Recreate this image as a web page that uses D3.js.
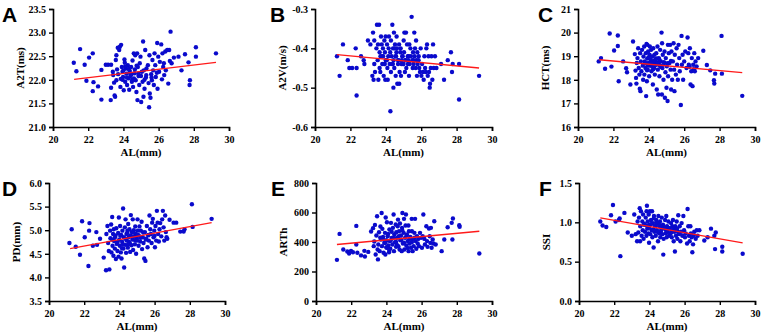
<!DOCTYPE html>
<html><head><meta charset="utf-8">
<script src="https://cdn.jsdelivr.net/npm/d3@7"></script>
<style>body{margin:0;background:#fff}svg{display:block}</style>
</head><body>
<svg id="chart" width="761" height="332"></svg>
<script>
// ---------- data ----------
const xTicks = [20, 22, 24, 26, 28, 30];

const alA = [21.18,21.33,21.54,21.80,21.90,22.05,22.26,22.30,22.26,22.56,22.75,22.75,23.00,23.13,23.28,23.30,23.30,23.40,23.42,23.47,23.50,23.53,23.60,23.57,23.60,23.64,23.68,23.76,23.80,23.83,23.87,23.91,23.95,23.98,24.02,24.06,24.08,24.10,24.14,24.17,24.21,24.25,24.29,24.33,24.36,24.40,24.44,24.48,24.52,24.55,24.59,24.63,24.67,24.70,24.74,24.78,24.80,24.82,24.86,24.90,24.93,24.97,25.01,25.05,25.09,25.12,25.14,25.16,25.20,25.24,25.28,25.31,25.39,25.43,25.46,25.48,25.50,25.54,25.58,25.62,25.65,25.69,25.73,25.77,25.81,25.84,25.92,25.94,25.98,26.03,26.07,26.15,26.19,26.22,26.26,26.32,26.38,26.41,26.49,26.55,26.60,26.64,26.68,26.74,26.87,27.13,27.30,27.50,27.70,27.78,27.76,28.12,28.12,29.26,
  23.70,23.85,24.00,24.20,24.35,24.50,24.65,24.85,25.00,25.30,25.60,24.10,24.45,24.75,23.95,24.30,24.60,25.20,25.90,26.30];
const a2tA = [22.36,22.18,22.65,22.32,21.98,22.47,22.56,21.95,21.76,21.86,21.58,22.21,22.32,22.32,21.57,22.32,21.83,22.17,22.10,21.94,21.67,21.64,22.52,22.42,21.99,22.22,22.68,22.63,22.70,21.85,22.74,22.27,22.17,22.06,21.78,22.43,22.36,21.96,22.24,22.13,21.89,22.31,22.03,21.79,22.19,22.08,22.27,21.96,22.41,21.85,22.56,22.14,22.52,21.99,21.74,22.56,21.57,22.27,22.08,21.89,22.35,22.49,21.53,22.17,21.96,22.81,21.64,22.20,21.81,22.63,22.05,22.24,22.31,21.93,21.42,22.52,21.71,21.62,22.12,21.99,22.42,22.20,21.89,22.56,22.31,22.06,22.78,21.81,22.49,22.17,22.38,22.75,22.01,22.56,22.27,22.10,22.60,22.20,22.63,21.92,22.63,22.40,23.02,22.35,22.47,22.49,22.20,22.54,22.37,21.99,21.89,22.69,22.49,22.56,
  22.12,22.02,22.20,22.05,22.15,22.00,22.22,22.13,22.08,22.10,22.05,22.28,22.11,22.30,22.00,22.23,22.03,22.00,22.15,22.35];
const lineA = [[21.2, 22.01], [29.26, 22.37]];
const yTicksA = [21.0, 21.5, 22.0, 22.5, 23.0, 23.5];

const alB = [21.24,21.39,21.58,21.85,21.94,22.10,22.30,22.35,22.35,22.60,22.75,22.79,22.99,23.13,23.24,23.28,23.31,23.35,23.35,23.39,23.47,23.50,23.54,23.56,23.58,23.62,23.65,23.65,23.69,23.73,23.77,23.80,23.80,23.84,23.88,23.92,23.94,23.95,23.97,23.99,24.03,24.07,24.09,24.11,24.14,24.16,24.18,24.22,24.26,24.29,24.29,24.33,24.37,24.41,24.43,24.44,24.46,24.48,24.52,24.56,24.58,24.61,24.63,24.65,24.69,24.71,24.75,24.76,24.78,24.82,24.84,24.86,24.90,24.93,24.97,25.01,25.03,25.05,25.08,25.12,25.14,25.16,25.20,25.24,25.27,25.31,25.33,25.35,25.39,25.42,25.46,25.50,25.52,25.54,25.57,25.61,25.63,25.65,25.69,25.71,25.73,25.76,25.78,25.80,25.86,25.89,25.93,25.97,26.01,26.05,26.10,26.14,26.18,26.22,26.26,26.29,26.33,26.37,26.41,26.44,26.48,26.50,26.54,26.58,26.63,26.67,26.71,26.78,26.86,27.12,27.29,27.50,27.68,27.74,27.78,28.14,28.14,29.27,
  23.70,23.90,24.05,24.25,24.40,24.55,24.70,24.88,25.10,25.30,25.55,25.85,24.00,24.35,24.60,24.95,25.25,23.85,24.50,25.00];
const a2vB = [-0.42,-0.47,-0.39,-0.43,-0.45,-0.45,-0.40,-0.52,-0.45,-0.42,-0.43,-0.44,-0.38,-0.39,-0.47,-0.36,-0.48,-0.38,-0.44,-0.46,-0.40,-0.34,-0.43,-0.39,-0.48,-0.34,-0.45,-0.41,-0.46,-0.37,-0.39,-0.44,-0.42,-0.40,-0.47,-0.38,-0.44,-0.41,-0.48,-0.37,-0.43,-0.39,-0.45,-0.48,-0.42,-0.40,-0.37,-0.44,-0.56,-0.38,-0.46,-0.42,-0.34,-0.40,-0.50,-0.43,-0.36,-0.45,-0.39,-0.47,-0.42,-0.37,-0.40,-0.49,-0.44,-0.43,-0.39,-0.49,-0.46,-0.41,-0.40,-0.47,-0.43,-0.42,-0.44,-0.38,-0.41,-0.36,-0.46,-0.43,-0.36,-0.45,-0.39,-0.42,-0.43,-0.47,-0.39,-0.44,-0.40,-0.42,-0.32,-0.43,-0.45,-0.41,-0.44,-0.36,-0.42,-0.40,-0.45,-0.38,-0.43,-0.47,-0.41,-0.44,-0.42,-0.45,-0.46,-0.40,-0.47,-0.44,-0.46,-0.48,-0.42,-0.45,-0.46,-0.40,-0.39,-0.47,-0.42,-0.46,-0.50,-0.49,-0.45,-0.42,-0.48,-0.39,-0.45,-0.42,-0.45,-0.44,-0.48,-0.43,-0.41,-0.46,-0.44,-0.44,-0.53,-0.47,
  -0.42,-0.44,-0.43,-0.41,-0.44,-0.42,-0.43,-0.44,-0.43,-0.42,-0.43,-0.43,-0.43,-0.44,-0.41,-0.42,-0.44,-0.42,-0.40,-0.44];
const lineB = [[21.24, -0.416], [29.27, -0.450]];
const yTicksB = [-0.6, -0.5, -0.4, -0.3];

const alC = [21.17,21.30,21.53,21.79,21.89,22.04,22.25,22.25,22.30,22.55,22.72,22.77,22.96,23.11,23.21,23.25,23.28,23.30,23.32,23.36,23.40,23.43,23.47,23.49,23.51,23.53,23.55,23.58,23.62,23.66,23.68,23.70,23.74,23.75,23.77,23.81,23.83,23.85,23.87,23.89,23.91,23.92,23.94,23.96,23.98,24.02,24.04,24.06,24.08,24.11,24.13,24.15,24.19,24.21,24.23,24.25,24.26,24.30,24.32,24.34,24.38,24.40,24.42,24.45,24.47,24.49,24.51,24.53,24.57,24.58,24.60,24.64,24.68,24.72,24.74,24.75,24.77,24.79,24.83,24.87,24.89,24.91,24.94,24.96,25.00,25.02,25.06,25.08,25.09,25.13,25.17,25.21,25.23,25.26,25.28,25.32,25.36,25.40,25.43,25.45,25.47,25.53,25.57,25.60,25.64,25.68,25.72,25.75,25.81,25.85,25.87,25.91,25.94,26.00,26.06,26.13,26.19,26.23,26.26,26.32,26.36,26.40,26.43,26.47,26.51,26.57,26.60,26.64,26.70,26.79,27.08,27.28,27.47,27.68,27.70,27.75,28.11,28.13,29.28,
  23.80,23.95,24.10,24.20,24.30,24.40,24.50,24.60,24.70,24.85,25.05,25.25,24.00,24.25,24.45,24.65,23.90,24.15,26.55,26.30];
const hctC = [18.78,18.92,18.47,19.96,18.56,19.24,19.88,19.43,17.94,18.78,18.49,18.32,17.80,19.62,19.09,18.39,18.08,17.84,18.71,18.92,19.34,18.50,18.22,17.62,19.13,17.52,18.78,18.36,19.27,18.60,18.00,18.99,19.41,18.22,18.78,18.50,19.13,17.31,19.52,17.94,18.90,19.48,18.43,19.20,18.71,18.15,19.06,19.41,18.60,18.85,19.27,18.36,18.99,18.68,17.80,19.34,18.78,18.50,19.06,18.22,18.88,18.64,19.13,17.59,18.74,19.41,18.43,17.38,18.92,18.64,18.15,19.27,18.78,20.00,17.38,19.55,18.50,19.06,18.00,18.71,19.20,17.24,18.32,18.92,17.66,18.57,17.10,19.48,18.15,19.13,18.71,19.48,18.43,17.59,19.20,18.00,18.78,19.55,18.43,17.52,19.06,18.22,19.34,18.64,18.00,19.48,18.92,18.36,16.93,19.86,18.64,19.06,18.00,18.78,19.20,18.50,19.79,19.13,18.64,19.34,17.80,18.36,18.92,17.73,18.64,19.13,18.36,18.78,18.57,18.92,19.23,18.63,18.40,17.98,17.84,18.26,19.86,18.26,17.32,
  18.70,18.60,18.75,18.55,18.80,18.65,18.70,18.85,18.60,18.75,18.70,18.80,18.95,18.45,18.90,18.55,18.40,18.70,18.45,18.55];
const lineC = [[21.2, 18.85], [29.28, 18.30]];
const yTicksC = [16, 17, 18, 19, 20, 21];

const alD = [21.16,21.29,21.52,21.76,21.88,22.03,22.24,22.28,22.30,22.49,22.69,22.73,22.90,23.11,23.24,23.26,23.32,23.36,23.40,23.43,23.47,23.49,23.53,23.55,23.59,23.61,23.64,23.66,23.68,23.70,23.74,23.78,23.80,23.82,23.85,23.89,23.93,23.95,23.97,23.99,24.02,24.04,24.08,24.10,24.12,24.16,24.17,24.21,24.23,24.25,24.27,24.31,24.33,24.35,24.38,24.40,24.42,24.46,24.48,24.50,24.54,24.55,24.57,24.61,24.63,24.65,24.69,24.71,24.74,24.76,24.78,24.82,24.84,24.88,24.90,24.93,24.95,24.99,25.03,25.05,25.09,25.10,25.14,25.18,25.22,25.26,25.29,25.33,25.37,25.41,25.45,25.48,25.52,25.56,25.60,25.64,25.67,25.71,25.75,25.79,25.83,25.86,25.90,25.94,25.98,26.02,26.05,26.09,26.13,26.17,26.20,26.24,26.28,26.32,26.38,26.43,26.47,26.51,26.55,26.60,26.64,26.68,26.72,26.85,27.08,27.23,27.46,27.65,27.70,28.12,28.16,29.24,
  23.75,23.90,24.05,24.20,24.35,24.45,24.60,24.75,24.90,25.05,25.20,25.35,25.50,24.15,24.50,24.80,25.00,25.65,26.00,23.60];
const pdD = [4.73,5.02,4.65,4.48,5.19,4.85,4.24,4.99,5.15,4.67,4.96,4.69,4.82,4.42,4.15,4.92,5.09,4.73,4.56,4.17,4.99,4.83,5.12,4.53,5.28,4.67,4.92,4.46,5.02,4.77,4.61,4.89,4.39,5.04,4.71,4.56,4.94,4.44,5.27,4.80,4.67,5.09,4.53,4.90,4.40,4.75,4.99,5.46,4.61,4.85,4.21,5.06,4.69,5.23,4.52,4.92,4.78,4.99,4.63,5.13,4.85,4.75,5.02,4.54,4.89,5.32,4.68,4.96,4.80,5.23,4.58,5.00,4.86,4.70,5.08,4.92,4.50,4.82,5.23,4.99,4.67,4.89,5.08,4.76,4.99,5.18,4.60,4.85,4.73,4.40,4.96,4.35,4.82,5.09,4.64,4.89,4.78,5.31,5.02,4.92,4.73,5.16,5.24,4.85,4.99,4.64,5.09,4.78,5.41,5.16,4.92,4.76,5.02,5.15,4.87,5.23,5.41,5.06,4.78,5.31,4.96,4.85,4.82,5.22,5.16,5.16,4.97,4.97,5.02,5.55,5.07,5.24,
  4.85,4.75,4.88,4.70,4.82,4.94,4.72,4.86,4.78,4.90,4.84,4.95,4.80,4.62,4.70,4.95,4.78,4.90,4.88,4.80];
const lineD = [[21.2, 4.61], [29.24, 5.16]];
const yTicksD = [3.5, 4.0, 4.5, 5.0, 5.5, 6.0];

const alE = [21.19,21.34,21.55,21.78,21.88,21.99,22.10,22.29,22.29,22.35,22.56,22.75,22.78,22.97,23.13,23.24,23.28,23.31,23.35,23.39,23.43,23.47,23.50,23.52,23.54,23.58,23.62,23.66,23.69,23.73,23.75,23.77,23.81,23.84,23.88,23.92,23.94,23.96,23.99,24.01,24.03,24.07,24.11,24.15,24.17,24.19,24.22,24.26,24.30,24.34,24.37,24.41,24.43,24.45,24.49,24.53,24.55,24.56,24.60,24.64,24.66,24.68,24.72,24.75,24.77,24.79,24.83,24.87,24.89,24.91,24.94,24.98,25.00,25.02,25.06,25.09,25.11,25.13,25.17,25.21,25.25,25.26,25.28,25.32,25.36,25.40,25.44,25.45,25.49,25.51,25.55,25.59,25.63,25.66,25.70,25.74,25.78,25.81,25.85,25.91,25.97,26.02,26.06,26.10,26.16,26.19,26.27,26.31,26.34,26.42,26.46,26.50,26.53,26.57,26.63,26.67,26.72,26.80,27.14,27.29,27.48,27.71,27.78,27.75,28.14,28.16,29.28,
  23.80,23.95,24.10,24.25,24.40,24.55,24.70,24.85,25.00,25.15,25.30,25.45,25.60,24.00,24.30,24.60,24.90,25.20,23.65,24.15];
const arthE = [279,455,349,336,322,340,331,509,383,327,309,340,302,333,471,494,372,403,516,315,444,575,349,282,383,466,338,505,417,597,372,489,435,327,394,462,315,566,412,361,534,439,376,331,485,406,354,530,428,383,496,586,338,451,399,519,367,466,428,507,552,372,473,349,525,412,444,338,496,597,390,462,557,349,428,512,586,376,451,406,512,338,473,390,435,361,557,473,338,421,372,462,557,406,354,439,390,421,372,462,428,361,439,586,421,383,507,406,367,491,439,394,496,361,417,390,541,383,338,417,500,530,559,417,514,503,322,
  420,395,455,410,430,400,440,415,395,445,420,400,430,365,470,380,480,360,430,350];
const lineE = [[21.19, 383], [29.28, 473]];
const yTicksE = [0, 200, 400, 600, 800];

const alF = [21.21,21.34,21.55,21.82,21.93,22.08,22.27,22.35,22.31,22.58,22.77,23.00,23.14,23.22,23.30,23.33,23.37,23.41,23.45,23.47,23.48,23.52,23.56,23.60,23.62,23.64,23.67,23.71,23.75,23.79,23.83,23.84,23.86,23.88,23.90,23.94,23.96,23.98,24.02,24.03,24.05,24.09,24.13,24.15,24.17,24.20,24.24,24.26,24.28,24.32,24.36,24.39,24.43,24.47,24.49,24.51,24.55,24.58,24.60,24.62,24.66,24.70,24.73,24.77,24.79,24.81,24.85,24.89,24.92,24.96,24.98,25.00,25.04,25.08,25.11,25.15,25.19,25.23,25.27,25.30,25.34,25.38,25.42,25.45,25.47,25.51,25.55,25.59,25.62,25.64,25.68,25.72,25.76,25.80,25.83,25.87,25.93,25.97,26.02,26.06,26.14,26.17,26.21,26.25,26.29,26.33,26.36,26.40,26.44,26.48,26.52,26.55,26.63,26.69,26.74,26.84,27.12,27.31,27.50,27.69,27.77,27.73,28.14,28.14,29.30,
  23.85,24.00,24.12,24.22,24.35,24.45,24.55,24.68,24.80,24.95,25.10,25.25,25.40,25.57,24.40,24.70,25.00,25.30,23.70,24.25];
const ssiF = [1.01,0.96,0.94,1.09,1.22,1.01,1.03,0.57,1.05,1.12,0.87,0.83,1.10,0.85,0.76,1.01,0.87,1.06,1.18,0.76,0.95,1.14,0.83,1.01,0.90,1.10,0.79,0.98,0.88,1.06,0.83,1.14,1.21,0.92,1.01,0.86,1.10,0.74,0.97,1.14,0.85,1.03,0.90,1.14,0.81,0.99,0.68,1.08,0.88,0.95,0.83,1.03,0.90,0.99,0.76,1.08,0.86,0.95,1.01,0.81,0.89,1.06,0.85,0.97,0.59,0.79,0.92,1.03,0.86,1.08,0.81,0.95,0.88,1.01,0.83,0.92,0.86,0.99,0.81,0.90,1.03,0.76,0.88,0.63,0.95,0.83,1.01,0.79,0.88,1.09,0.85,0.95,0.76,0.88,0.99,0.83,1.08,0.90,0.81,0.86,0.73,1.17,0.95,0.83,0.76,0.95,0.86,0.81,0.62,0.72,0.83,0.88,0.79,0.90,0.83,0.90,0.77,0.81,0.92,0.83,0.87,0.66,0.69,0.63,0.60,
  0.96,0.93,0.98,0.91,0.95,0.88,0.97,0.92,0.94,0.90,0.93,0.87,0.91,0.92,1.00,0.94,0.90,0.95,0.97,1.05];
const lineF = [[21.21, 1.056], [29.3, 0.74]];
const yTicksF = [0.0, 0.5, 1.0, 1.5];

// ---------- drawing ----------
const svg = d3.select("#chart");

const panels = [
  {letter:"A", title:"A2T(ms)", xs:alA, ys:a2tA, line:lineA, yt:yTicksA, fmt:d3.format(".1f"), l:53, r:229, t:9, b:127},
  {letter:"B", title:"A2V(m/s)", xs:alB, ys:a2vB, line:lineB, yt:yTicksB, fmt:d=>d.toFixed(1), l:315, r:492, t:9, b:127},
  {letter:"C", title:"HCT(ms)", xs:alC, ys:hctC, line:lineC, yt:yTicksC, fmt:d3.format("d"), l:578, r:755, t:9, b:127},
  {letter:"D", title:"PD(mm)", xs:alD, ys:pdD, line:lineD, yt:yTicksD, fmt:d3.format(".1f"), l:49, r:225, t:183, b:301},
  {letter:"E", title:"ARTh", xs:alE, ys:arthE, line:lineE, yt:yTicksE, fmt:d3.format("d"), l:316, r:492, t:183, b:301},
  {letter:"F", title:"SSI", xs:alF, ys:ssiF, line:lineF, yt:yTicksF, fmt:d3.format(".1f"), l:579, r:755, t:183, b:301}
];

panels.forEach(p => {
  const x = d3.scaleLinear().domain([20, 30]).range([p.l, p.r]);
  const y = d3.scaleLinear().domain([p.yt[0], p.yt[p.yt.length-1]]).range([p.b, p.t]);
  const g = svg.append("g");

  const data = p.xs.map((v, i) => [v, p.ys[i]]);
  g.selectAll("circle").data(data).join("circle")
    .attr("cx", d => x(d[0])).attr("cy", d => y(d[1])).attr("r", 2.2)
    .attr("fill", "#0a0acc");

  g.append("path").datum(p.line)
    .attr("d", d3.line().x(d => x(d[0])).y(d => y(d[1])))
    .attr("stroke", "#ff1a1a").attr("stroke-width", 1.3).attr("fill", "none");

  const xa = g.append("g").attr("transform", `translate(0,${p.b})`)
    .call(d3.axisBottom(x).tickValues(xTicks).tickFormat(d3.format("d")).tickSizeOuter(0).tickSize(4));
  const ya = g.append("g").attr("transform", `translate(${p.l},0)`)
    .call(d3.axisLeft(y).tickValues(p.yt).tickFormat(p.fmt).tickSizeOuter(0).tickSize(4));
  [xa, ya].forEach(a => {
    a.select(".domain").attr("stroke", "#000").attr("stroke-width", 1.6);
    a.selectAll(".tick line").attr("stroke", "#000").attr("stroke-width", 1.4);
    a.selectAll(".tick text").attr("fill", "#000")
      .style("font-family", "'Liberation Serif','Times New Roman',serif")
      .style("font-weight", "bold").style("font-size", "10px");
  });
  xa.selectAll(".tick text").attr("dy", "0.85em");

  g.append("text").attr("x", (p.l + p.r) / 2).attr("y", p.b + 29)
    .attr("text-anchor", "middle")
    .style("font-family", "'Liberation Serif','Times New Roman',serif")
    .style("font-weight", "bold").style("font-size", "11px").text("AL(mm)");

  g.append("text").attr("transform", `translate(${p.l - 29},${(p.t + p.b) / 2}) rotate(-90)`)
    .attr("text-anchor", "middle")
    .style("font-family", "'Liberation Serif','Times New Roman',serif")
    .style("font-weight", "bold").style("font-size", "11px").text(p.title);

  g.append("text").attr("x", p.letter === "A" || p.letter === "D" ? 2 : (p.letter === "C" || p.letter === "F" ? p.l - 40 : p.l - 45))
    .attr("y", p.t + 13)
    .style("font-family", "'Liberation Sans',Arial,sans-serif")
    .style("font-weight", "bold").style("font-size", "21px").text(p.letter);
});
</script>
</body></html>
